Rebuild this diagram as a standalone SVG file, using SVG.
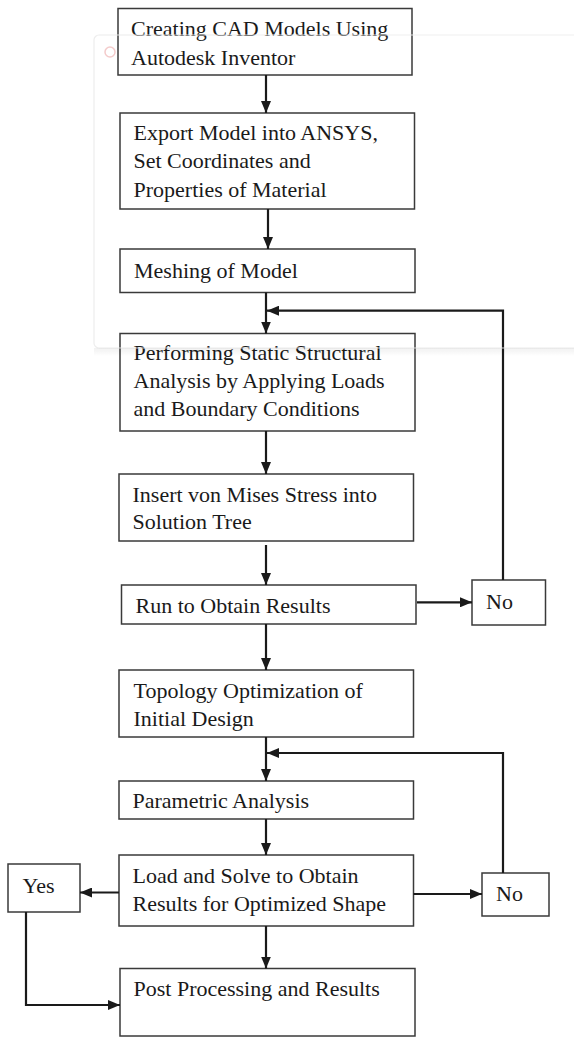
<svg xmlns="http://www.w3.org/2000/svg" width="574" height="1037" viewBox="0 0 574 1037">
<style>
.box{fill:#fff;stroke:#3a3a3a;stroke-width:1.5}
.t{font-family:'Liberation Serif','Tinos','Times New Roman','DejaVu Serif',serif;font-size:22px;fill:#1a1a1a}
.c{fill:none;stroke:#1a1a1a;stroke-width:2.2}
.wm{fill:none;stroke:#ececec;stroke-width:1.2}
</style>
<defs>
<marker id="ah" viewBox="0 0 12 10" refX="12" refY="5" markerWidth="12" markerHeight="10" markerUnits="userSpaceOnUse" orient="auto">
<path d="M0,0 L12,5 L0,10 z" fill="#1a1a1a"/>
</marker>
<linearGradient id="sh" x1="0" y1="0" x2="0" y2="1">
<stop offset="0" stop-color="#000" stop-opacity="0.06"/>
<stop offset="1" stop-color="#000" stop-opacity="0"/>
</linearGradient>
</defs>
<rect width="574" height="1037" fill="#fff"/>
<g id="nodes" font-family="Liberation Serif, Times New Roman, serif">
<g id="n1"><rect class="box" x="118" y="8.5" width="294" height="66.5"/><text class="t" x="131" y="36">Creating CAD Models Using</text><text class="t" x="131" y="65">Autodesk Inventor</text></g>
<g id="n2"><rect class="box" x="120" y="113" width="294.5" height="96"/><text class="t" x="133.5" y="140">Export Model into ANSYS,</text><text class="t" x="133.5" y="168">Set Coordinates and</text><text class="t" x="133.5" y="196.5">Properties of Material</text></g>
<g id="n3"><rect class="box" x="120" y="249" width="295" height="43.5"/><text class="t" x="134" y="277.5">Meshing of Model</text></g>
<g id="n4"><rect class="box" x="120" y="333.5" width="295" height="97.5"/><text class="t" x="133.5" y="359.5">Performing Static Structural</text><text class="t" x="133.5" y="387.5">Analysis by Applying Loads</text><text class="t" x="133.5" y="416">and Boundary Conditions</text></g>
<g id="n5"><rect class="box" x="119" y="474" width="294.5" height="67"/><text class="t" x="132.5" y="501.5">Insert von Mises Stress into</text><text class="t" x="132.5" y="529">Solution Tree</text></g>
<g id="n6"><rect class="box" x="121.5" y="585" width="294.5" height="39"/><text class="t" x="135.5" y="613">Run to Obtain Results</text></g>
<g id="n7"><rect class="box" x="119" y="670" width="294.5" height="67"/><text class="t" x="133.5" y="697.5">Topology Optimization of</text><text class="t" x="133.5" y="725.5">Initial Design</text></g>
<g id="n8"><rect class="box" x="119" y="781" width="294.5" height="38"/><text class="t" x="132.5" y="807.5">Parametric Analysis</text></g>
<g id="n9"><rect class="box" x="119" y="855" width="294.5" height="71"/><text class="t" x="132.5" y="882.5">Load and Solve to Obtain</text><text class="t" x="132.5" y="911">Results for Optimized Shape</text></g>
<g id="n10"><rect class="box" x="120" y="968.5" width="295" height="67.5"/><text class="t" x="133.5" y="996">Post Processing and Results</text></g>
<g id="yes"><rect class="box" x="8" y="864" width="72" height="48"/><text class="t" x="22.5" y="892.5">Yes</text></g>
<g id="no1"><rect class="box" x="472" y="580" width="73.5" height="45"/><text class="t" x="486" y="608.5">No</text></g>
<g id="no2"><rect class="box" x="482" y="873" width="67" height="43"/><text class="t" x="496" y="901">No</text></g>
</g>
<g id="connectors">
<path class="c" d="M266,75 V113" marker-end="url(#ah)"/>
<path class="c" d="M268,209 V249" marker-end="url(#ah)"/>
<path class="c" d="M266,292.5 V333.5" marker-end="url(#ah)"/>
<path class="c" d="M503,580 V310.7 H267" marker-end="url(#ah)"/>
<path class="c" d="M266,431 V474" marker-end="url(#ah)"/>
<path class="c" d="M266,545 V585" marker-end="url(#ah)"/>
<path class="c" d="M417,602.3 H472" marker-end="url(#ah)"/>
<path class="c" d="M266,624 V670" marker-end="url(#ah)"/>
<path class="c" d="M266,737 V781" marker-end="url(#ah)"/>
<path class="c" d="M503,873 V753 H267" marker-end="url(#ah)"/>
<path class="c" d="M266,819 V855" marker-end="url(#ah)"/>
<path class="c" d="M119,892.5 H80" marker-end="url(#ah)"/>
<path class="c" d="M413.5,894 H482" marker-end="url(#ah)"/>
<path class="c" d="M266,926 V968.5" marker-end="url(#ah)"/>
<path class="c" d="M26,912 V1005 H120" marker-end="url(#ah)"/>
</g>
<g id="watermark" opacity="0.9">
<rect class="wm" x="94" y="35" width="490" height="313" rx="5"/>
<rect x="94" y="348" width="490" height="8" fill="url(#sh)"/>
<circle cx="110" cy="52" r="5" fill="none" stroke="#f3c6c6" stroke-width="1.5"/>
</g>
</svg>
